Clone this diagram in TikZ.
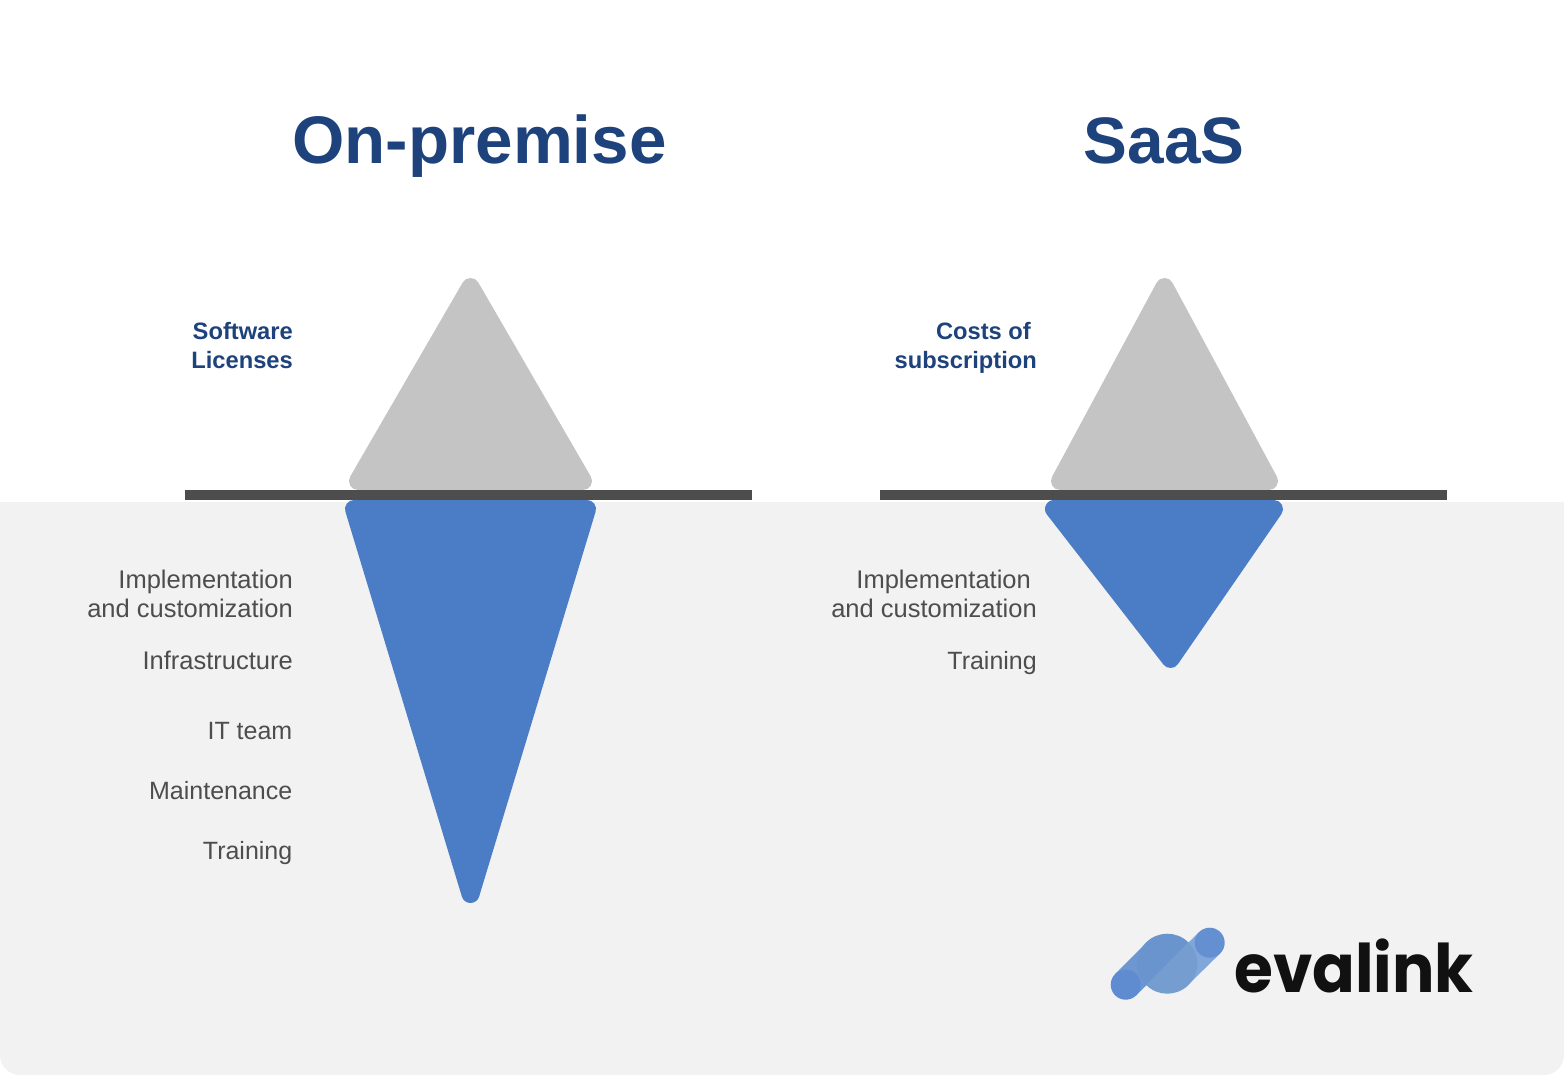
\documentclass[tikz,border=0pt]{standalone}
\usepackage{fontspec}
\setmainfont{Liberation Sans}
\newfontfamily\logofont{Poppins}
\definecolor{navy}{HTML}{1D427C}
\definecolor{bluefill}{HTML}{4B7DC7}
\definecolor{greyfill}{HTML}{C4C4C4}
\definecolor{barcol}{HTML}{4D4D4D}
\definecolor{seabg}{HTML}{F2F2F2}
\definecolor{bodytext}{HTML}{4D4D4D}
\definecolor{inkblack}{HTML}{111111}
\definecolor{logoBandA}{HTML}{6E97D2}
\definecolor{logoBandB}{HTML}{80A6DA}
\definecolor{logoHalfA}{HTML}{6A94CE}
\definecolor{logoHalfB}{HTML}{769DD0}
\definecolor{logoDotA}{HTML}{5F8CD1}
\definecolor{logoDotB}{HTML}{6490D2}
\tikzset{
  titletext/.style={font=\bfseries\fontsize{#1}{#1}\selectfont, text=navy, anchor=base, inner sep=0},
  headtext/.style={font=\bfseries\fontsize{23.7}{29}\selectfont, text=navy, align=right, anchor=base east, inner sep=0},
  bodylabel/.style={font=\fontsize{25.5}{29}\selectfont, text=bodytext, align=right, anchor=base east, inner sep=0},
  shortlabel/.style={font=\fontsize{25}{29}\selectfont, text=bodytext, align=right, anchor=base east, inner sep=0},
  greytri/.style={fill=greyfill, draw=greyfill, line width=18pt, line join=round},
  bluetri/.style={fill=bluefill, draw=bluefill, line width=18pt, line join=round},
  surface/.style={fill=barcol},
  logoband/.style={line width=30pt, line cap=butt},
}
\begin{document}
\begin{tikzpicture}[x=1pt,y=-1pt]
\useasboundingbox (0,0) rectangle (1564,1075);
\fill[white] (0,0) rectangle (1564,1075);
\fill[seabg, rounded corners=20pt] (0,502) -- (0,1075) -- (1564,1075) -- (1564,502) -- cycle;
\fill[seabg] (0,502) rectangle (1564,530);
\node[titletext=67.3] (t1) at (479.5,164) {On-premise};
\node[titletext=65.7] (t2) at (1164,164) {SaaS};
\filldraw[greytri] (358,481) -- (470.5,287) -- (583,481) -- cycle;
\filldraw[greytri] (1060,481) -- (1164.5,287) -- (1269,481) -- cycle;
\fill[surface] (185,490) rectangle (752,500);
\fill[surface] (880,490) rectangle (1447,500);
\filldraw[bluetri] (354,509) -- (587,509) -- (470.5,894) -- cycle;
\filldraw[bluetri] (1054,509) -- (1274,509) -- (1170.5,659) -- cycle;
\node[headtext] (a1) at (293,369) {Software\\Licenses};
\node[headtext] (a2) at (1037,369) {Costs of\hspace*{6pt}\\subscription};
\node[bodylabel] (b1) at (293,617) {Implementation\\and customization};
\node[bodylabel] (b2) at (293,669) {Infrastructure};
\node[shortlabel] (b3) at (292.5,739) {IT team};
\node[shortlabel] (b4) at (292.5,799) {Maintenance};
\node[shortlabel] (b5) at (292.5,859) {Training};
\node[bodylabel] (c1) at (1037,617) {Implementation\hspace*{6pt}\\and customization};
\node[shortlabel] (c2) at (1037,669) {Training};
% logo
\draw[logoband, logoBandA] (1125.7,984.7) -- (1157.2,953.2);
\draw[logoband, logoBandB] (1209.7,942.7) -- (1177.7,974);
\fill[logoHalfA] (1188.5,942.5) arc[start angle=45,delta angle=180,radius=30pt] -- cycle;
\fill[logoHalfB] (1188.5,942.5) arc[start angle=45,delta angle=-180,radius=30pt] -- cycle;
\fill[logoDotA] (1125.7,984.7) circle[radius=15];
\fill[logoDotB] (1209.7,942.7) circle[radius=15];
\node[font=\logofont\bfseries\fontsize{67}{67}\selectfont, text=inkblack, anchor=base west, inner sep=0] (logo) at (1234,992) {\scalebox{.94}[1]{evalink}};
\end{tikzpicture}
\end{document}
